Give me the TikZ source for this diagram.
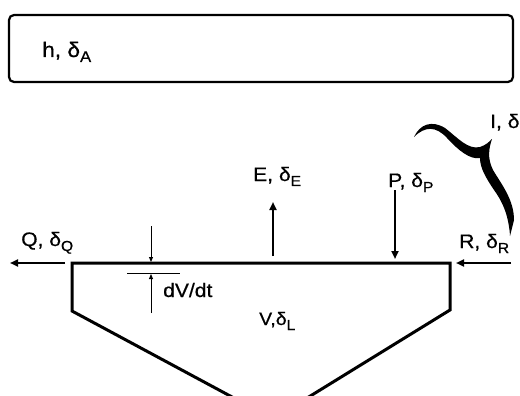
\documentclass[tikz,border=0pt]{standalone}
\usepackage{fontspec}
\setmainfont{Liberation Sans}[FakeBold=0.6]
\usetikzlibrary{arrows.meta}
\newcommand{\dsub}[1]{\raisebox{-5pt}{\fontsize{14.5}{14.5}\selectfont #1}}
\begin{document}
\begin{tikzpicture}[x=1pt,y=-1pt,
  lbl/.style={anchor=base west,inner sep=0pt,font=\fontsize{19.5}{21}\selectfont,xscale=1.08,transform shape},
  flow/.style={line width=2pt,-{Triangle[length=8pt,width=7pt]}},
  thin/.style={line width=0.9pt,-{Triangle[length=5pt,width=4pt]}},
  wall/.style={line width=3pt,line join=miter}]
\useasboundingbox (0,0) rectangle (520,396);
% top box
\draw[line width=2.2pt,rounded corners=5pt] (9,15) rectangle (513,82);
\node[lbl,font=\fontsize{21}{23}\selectfont] (h) at (42,57) {h, δ\raisebox{-5pt}{\fontsize{15.5}{15.5}\selectfont A}};
% tank
\coordinate (tl) at (72,263);
\coordinate (tr) at (450,263);
\draw[wall] (273,419) -- (72,311) -- (tl) -- (tr) -- (450,310) -- (273,419);
% Q
\coordinate (qs) at (65,263); \coordinate (qe) at (10,263);
\draw[flow] (qs) -- (qe);
\node[lbl] (q) at (21,246) {Q, δ\dsub{Q}};
% R
\coordinate (rs) at (511,263); \coordinate (re) at (456,263);
\draw[flow] (rs) -- (re);
\node[lbl] (r) at (459,248) {R, δ\dsub{R}};
% E
\coordinate (es) at (273,256); \coordinate (ee) at (273,202);
\draw[flow] (es) -- (ee);
\node[lbl] (e) at (253,181) {E, δ\dsub{E}};
% P
\coordinate (ps) at (395,190); \coordinate (pe) at (395,259);
\draw[flow] (ps) -- (pe);
\node[lbl] (p) at (388,187) {P, δ\dsub{P}};
% I
\node[lbl] (i) at (490,128) {I, δ\dsub{I}};
\fill (414,137) .. controls (420,124) and (432,120) .. (445,128)
  .. controls (458,138) and (468,150) .. (480,147)
  .. controls (486,145) and (489,142) .. (492,139)
  .. controls (489,148) and (487,158) .. (493,170)
  .. controls (502,185) and (514,200) .. (514,220)
  -- (510,236)
  .. controls (509,220) and (505,205) .. (494,190)
  .. controls (486,178) and (480,168) .. (480,158)
  .. controls (470,160) and (458,150) .. (447,138)
  .. controls (436,126) and (425,126) .. (414,137) -- cycle;
% dV/dt
\coordinate (ds) at (151,226); \coordinate (de) at (151,262);
\draw[thin] (ds) -- (de);
\coordinate (ml) at (127,273); \coordinate (mr) at (180,273);
\draw[line width=0.9pt] (ml) -- (mr);
\coordinate (us) at (151,313); \coordinate (ue) at (151,274);
\draw[thin] (us) -- (ue);
\node[lbl] (dv) at (163,297) {dV/dt};
% V
\node[lbl,font=\fontsize{18}{20}\selectfont] (v) at (259,325) {V,δ\dsub{L}};
\end{tikzpicture}
\end{document}
